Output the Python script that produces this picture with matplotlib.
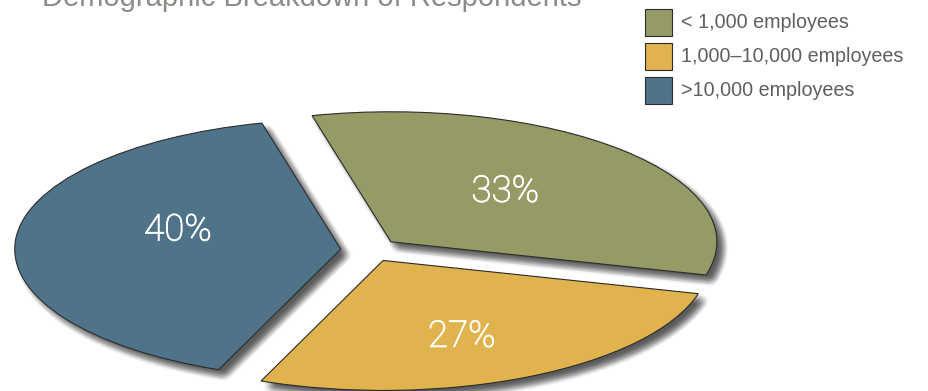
import matplotlib
matplotlib.use("Agg")
from matplotlib import pyplot as plt
from matplotlib import patheffects as pe
from matplotlib.patches import Rectangle
import numpy as np

categories = ['< 1,000 employees', '1,000\u201310,000 employees', '>10,000 employees']
shares = [33, 27, 40]
colors = ['#969b65', '#e0b34e', '#4f748a']
title = 'Demographic Breakdown of Respondents'

W, H = 929, 391
fig = plt.figure(figsize=(W / 100, H / 100), dpi=100)
ax = fig.add_axes([0, 0, 1, 1])

explode = 0.09
wedges, texts, autotexts = ax.pie(
    shares, colors=colors, startangle=104, counterclock=False,
    explode=[explode] * 3, autopct='%d%%', pctdistance=0.55,
    wedgeprops=dict(edgecolor='#2b2b2b', linewidth=0.8),
    textprops=dict(color='white', fontsize=26.5, family=['Roboto', 'DejaVu Sans'], weight='light'))

# nudge the percent labels to where the reference puts them
label_r = [0.52, 0.635, 0.52]
label_dtheta = [3, -4.3, -12.1]
for w, t, r, dt in zip(wedges, autotexts, label_r, label_dtheta):
    th = np.deg2rad((w.theta1 + w.theta2) / 2 + dt)
    t.set_position((w.center[0] + r * np.cos(th), w.center[1] + r * np.sin(th)))
    t.set_path_effects([pe.withStroke(linewidth=0.7, foreground='white')])

# soft shadow: stack of faint offset copies
shadow = []
for dx in np.linspace(-4, 4, 7):
    for dy in np.linspace(-4, 4, 7):
        if dx * dx + dy * dy <= 17:
            shadow.append(pe.SimplePatchShadow(offset=(4.5 + dx, -4.5 + dy), shadow_rgbFace='#000000', alpha=0.03))
shadow.append(pe.Normal())
for w in wedges:
    w.set_path_effects(shadow)

# squash the pie into an ellipse
rx, ry = 326.0, 130.0
cx, cy = 370.0, 250.0
ax.set_aspect('auto')
ax.set_xlim(-cx / rx, (W - cx) / rx)
ax.set_ylim(-(H - cy) / ry, cy / ry)
ax.axis('off')

fig.text(42 / W, 1 - 6 / H, title, fontsize=21, color='#8f8a86',
         family='Liberation Sans', va='baseline', ha='left')

# legend
for i, (lab, col) in enumerate(zip(categories, colors)):
    top = 9 + i * 34
    fig.add_artist(Rectangle((645 / W, 1 - (top + 27) / H), 27 / W, 27 / H,
                             facecolor=col, edgecolor='#2b2b2b', linewidth=0.8,
                             transform=fig.transFigure))
    fig.text(681 / W, 1 - (top + 13.5) / H, lab, fontsize=14.2, color='#5f5f5f',
             family='Liberation Sans', va='center', ha='left')

fig.savefig('out.png', dpi=100)
